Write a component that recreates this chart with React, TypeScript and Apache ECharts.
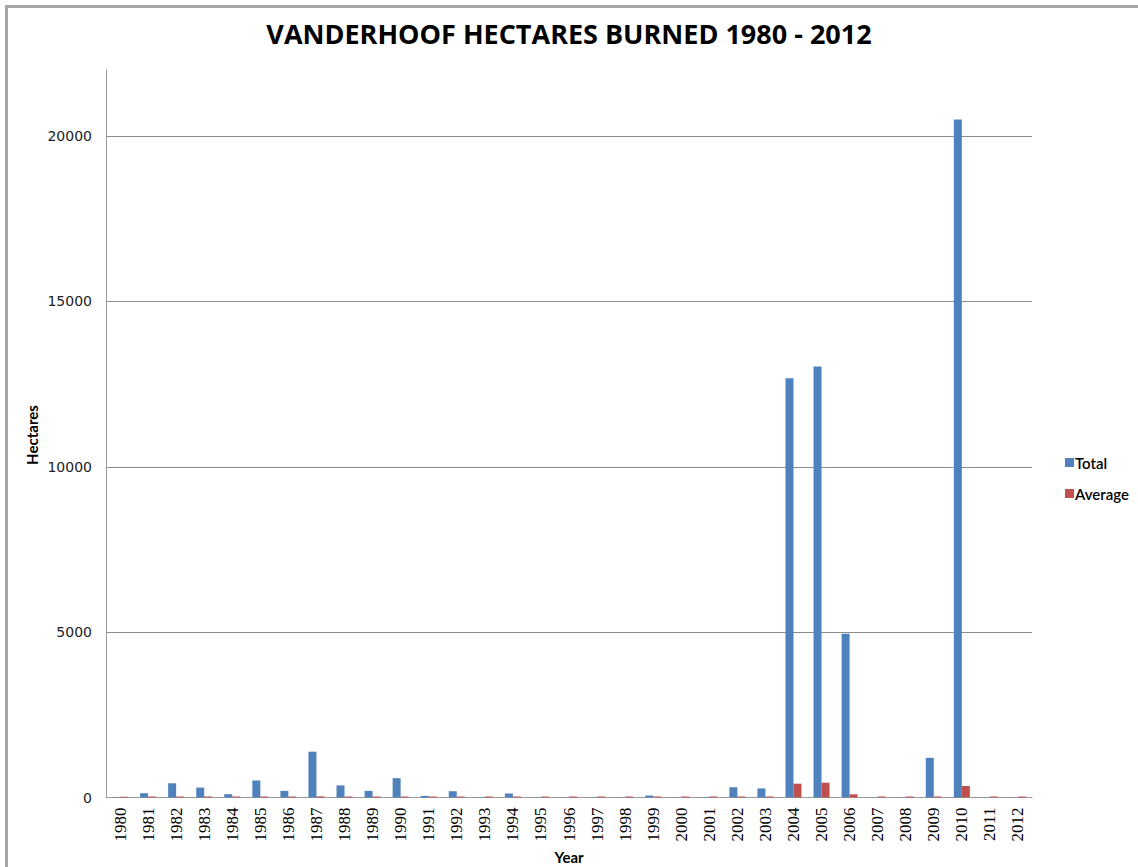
import React, { useEffect, useRef } from "react";
import * as echarts from "echarts";

const years = [
  "1980", "1981", "1982", "1983", "1984", "1985", "1986", "1987", "1988", "1989",
  "1990", "1991", "1992", "1993", "1994", "1995", "1996", "1997", "1998", "1999",
  "2000", "2001", "2002", "2003", "2004", "2005", "2006", "2007", "2008", "2009",
  "2010", "2011", "2012",
];

const totalHectares = [
  15, 130, 430, 300, 100, 515, 200, 1385, 365, 200,
  585, 50, 190, 10, 120, 10, 10, 10, 10, 60,
  10, 15, 310, 275, 12680, 13030, 4950, 10, 10, 1200,
  20500, 10, 10,
];

const averageHectares = [
  25, 30, 30, 30, 30, 30, 30, 35, 30, 30,
  30, 30, 30, 30, 30, 30, 30, 30, 30, 30,
  30, 30, 30, 30, 418, 448, 97, 30, 30, 30,
  348, 30, 30,
];

const seriesNames = ["Total", "Average"];

export default function App() {
  const ref = useRef<HTMLDivElement>(null);

  useEffect(() => {
    if (!ref.current) return;
    const chart = echarts.init(ref.current, null, { renderer: "svg" });
    chart.setOption({
      animation: false,
      backgroundColor: "#ffffff",
      title: {
        text: "VANDERHOOF HECTARES BURNED 1980 - 2012",
        left: "center",
        top: 15,
        textStyle: {
          fontFamily: "Open Sans, sans-serif",
          fontSize: 27,
          fontWeight: "bold",
          color: "#000000",
        },
      },
      legend: {
        orient: "vertical",
        left: 1060,
        top: 450,
        itemWidth: 9,
        itemHeight: 9,
        itemGap: 16,
        icon: "rect",
        data: seriesNames,
        textStyle: {
          fontFamily: "Lato, sans-serif",
          fontSize: 15,
          fontWeight: 600,
          color: "#000000",
          padding: [0, 0, 0, -4],
        },
      },
      grid: {
        left: 106,
        width: 926,
        top: 70,
        height: 727.5,
        containLabel: false,
        outerBoundsMode: "none",
      },
      xAxis: {
        type: "category",
        data: years,
        boundaryGap: true,
        name: "Year",
        nameLocation: "middle",
        nameGap: 50,
        nameTextStyle: {
          fontFamily: "Lato, sans-serif",
          fontSize: 15,
          fontWeight: "bold",
          color: "#000000",
        },
        axisLine: { lineStyle: { color: "#9a9a9a", width: 1 } },
        axisTick: { show: false },
        axisLabel: {
          rotate: 90,
          interval: 0,
          margin: 10,
          fontFamily: "Liberation Serif",
          fontSize: 17,
          color: "#000000",
        },
      },
      yAxis: {
        type: "value",
        min: 0,
        max: 22000,
        interval: 5000,
        axisLine: { show: true, lineStyle: { color: "#9a9a9a", width: 1 } },
        axisTick: { show: false },
        axisLabel: {
          margin: 14,
          showMaxLabel: false,
          formatter: (v: number) => String(v),
          fontFamily: "DejaVu Sans",
          fontSize: 14,
          color: "#222222",
        },
        splitLine: {
          show: true,
          showMaxLine: false,
          showMinLine: false,
          lineStyle: { color: "#8c8c8c", width: 1 },
        },
      },
      graphic: [
        {
          type: "rect",
          shape: { x: 6.5, y: 6.5, width: 1140, height: 870 },
          style: { fill: "none", stroke: "#a6a6a6", lineWidth: 3 },
          silent: true,
        },
        {
          type: "text",
          x: 32,
          y: 435,
          rotation: Math.PI / 2,
          style: {
            text: "Hectares",
            fontFamily: "Lato, sans-serif",
            fontSize: 15,
            fontWeight: "bold",
            fill: "#000000",
            align: "center",
            verticalAlign: "middle",
          },
        },
      ],
      series: [
        {
          name: seriesNames[0],
          type: "bar",
          data: totalHectares,
          barWidth: 8,
          barGap: "0%",
          itemStyle: { color: "#4F81BD" },
        },
        {
          name: seriesNames[1],
          type: "bar",
          data: averageHectares,
          barWidth: 8,
          barGap: "0%",
          itemStyle: { color: "#C0504D" },
        },
      ],
    });
    return () => chart.dispose();
  }, []);

  return (
    <div
      ref={ref}
      style={{ position: "absolute", left: 0, top: 0, width: 1138, height: 867 }}
    />
  );
}
